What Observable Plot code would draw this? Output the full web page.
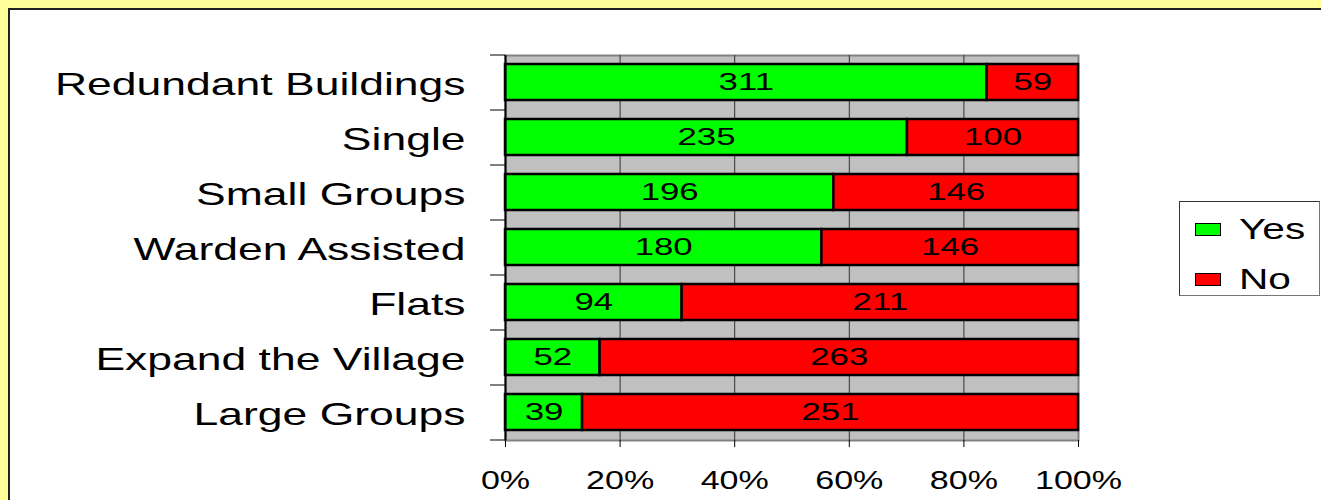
<!DOCTYPE html>
<html>
<head>
<meta charset="utf-8">
<script src="https://cdn.jsdelivr.net/npm/d3@7"></script>
<script src="https://cdn.jsdelivr.net/npm/@observablehq/plot@0.6"></script>
<style>
  html, body { margin: 0; padding: 0; background: #FFFF99; width: 1321px; height: 500px; overflow: hidden; font-family: "Liberation Sans", Arial, sans-serif; }
  #wrap { position: relative; width: 1321px; height: 500px; }
  #panel { position: absolute; left: 8px; top: 8px; right: 0; bottom: 0; background: #fff; border-left: 2px solid #222; border-top: 2px solid #222; }
  #chart { position: absolute; left: 0; top: 0; }
  #legend { position: absolute; left: 1179px; top: 201px; width: 141px; height: 95px; border: 1px solid #333; border-bottom-color: #777; border-right-color: #777; background: #fff; box-sizing: border-box; }
  .item { position: absolute; left: 15px; height: 30px; display: flex; align-items: center; }
  .sw { width: 26px; height: 13px; border: 1.5px solid #000; box-sizing: border-box; }
  .lab { font-size: 29px; margin-left: 18px; transform: scaleX(1.4); transform-origin: left center; color: #000; }
</style>
</head>
<body>
<div id="wrap">
  <div id="panel"></div>
  <div id="chart"></div>
  <div id="legend"></div>
</div>
<script>
const categories = ["Redundant Buildings", "Single", "Small Groups", "Warden Assisted", "Flats", "Expand the Village", "Large Groups"];
const yesCounts = [311, 235, 196, 180, 94, 52, 39];
const noCounts = [59, 100, 146, 146, 211, 263, 251];
const series = ["Yes", "No"];
const seriesColors = ["#00FF00", "#FF0000"];
const xTicks = [0, 0.2, 0.4, 0.6, 0.8, 1];
const gridTicks = [0.2, 0.4, 0.6, 0.8];

const data = categories.flatMap((c, i) => [
  {category: c, answer: "Yes", count: yesCounts[i]},
  {category: c, answer: "No", count: noCounts[i]}
]);

const stackOpts = {offset: "normalize", x: "count", y: "category", z: "answer", order: series};
const halfStep = 27.5;

const plot = Plot.plot({
  width: 1321,
  height: 500,
  marginLeft: 505,
  marginRight: 243,
  marginTop: 55,
  marginBottom: 60,
  style: {background: "transparent", fontFamily: "'Liberation Sans', Arial, sans-serif", color: "#000", overflow: "visible"},
  x: {domain: [0, 1], label: null},
  y: {domain: categories, paddingInner: 0.345, paddingOuter: 0.1725, label: null},
  color: {domain: series, range: seriesColors},
  marks: [
    Plot.frame({fill: "#C0C0C0", stroke: "#808080", strokeWidth: 2}),
    Plot.gridX(gridTicks, {stroke: "#333", strokeOpacity: 1, strokeWidth: 1}),
    Plot.barX(data, Plot.stackX({...stackOpts, fill: "answer", stroke: "#000", strokeWidth: 2.5})),
    Plot.text(data, Plot.stackX({...stackOpts, text: "count", fontSize: 24, fill: "#000", className: "barlab"})),
    Plot.ruleX([0], {stroke: "#000", strokeWidth: 2}),
    Plot.axisX({ticks: xTicks, tickFormat: d => Math.round(d * 100) + "%", tickSize: 7, tickPadding: 23, fontSize: 26, stroke: "#000", label: null}),
    Plot.axisY({tickSize: 0, tickPadding: 40, fontSize: 32, dy: 2, label: null}),
    Plot.axisY({tickSize: 15, tickFormat: () => "", dy: -halfStep, label: null, stroke: "#000"}),
    Plot.axisY({ticks: [categories[categories.length - 1]], tickSize: 15, tickFormat: () => "", dy: halfStep, label: null, stroke: "#000"})
  ]
});

document.getElementById("chart").appendChild(plot);

// Horizontally stretch text as in the reference
function stretch(texts, sx) {
  texts.forEach(t => {
    if (!t.textContent) return;
    const w = t.getComputedTextLength();
    if (w > 0) {
      t.setAttribute("textLength", w * sx);
      t.setAttribute("lengthAdjust", "spacingAndGlyphs");
    }
  });
}
stretch(plot.querySelectorAll("g[aria-label='y-axis tick label'] text"), 1.39);
stretch(plot.querySelectorAll("g[aria-label='x-axis tick label'] text"), 1.31);
stretch(plot.querySelectorAll(".barlab text"), 1.45);

// Legend
const legend = document.getElementById("legend");
series.forEach((s, i) => {
  const item = document.createElement("div");
  item.className = "item";
  item.style.top = (12 + i * 50) + "px";
  const sw = document.createElement("div");
  sw.className = "sw";
  sw.style.background = seriesColors[i];
  const lab = document.createElement("span");
  lab.className = "lab";
  lab.textContent = s;
  item.appendChild(sw);
  item.appendChild(lab);
  legend.appendChild(item);
});
</script>
</body>
</html>
